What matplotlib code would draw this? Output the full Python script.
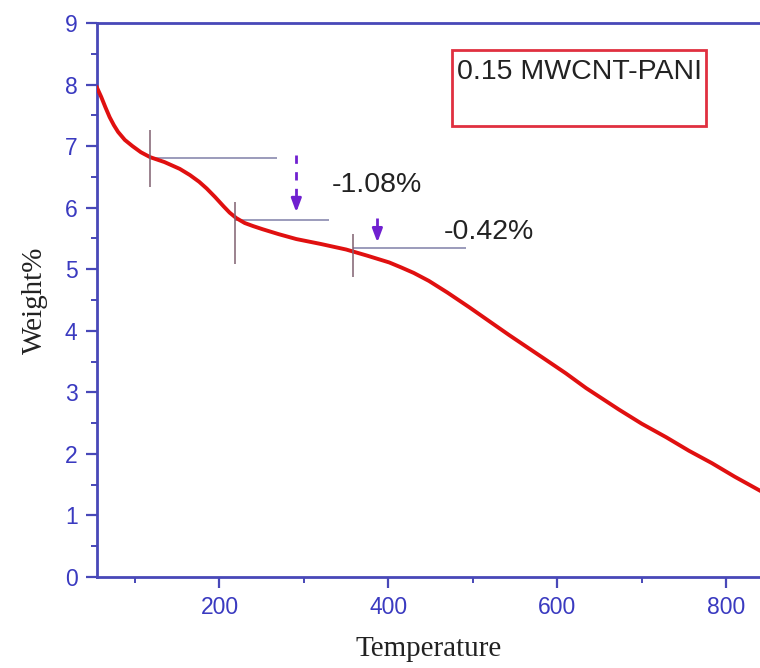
import numpy as np
import matplotlib.pyplot as plt
from matplotlib.ticker import MultipleLocator

# TGA curve
temp = [55, 60, 65, 70, 75, 80, 88, 97, 107, 118, 135, 153, 165, 176, 185, 195,
        205, 212, 220, 230, 240, 251, 270, 291, 320, 350, 375, 401, 415, 430,
        448, 470, 496, 520, 543, 582, 610, 634, 673, 700, 729, 756, 783, 810, 839]
weight = [7.95, 7.80, 7.63, 7.47, 7.34, 7.23, 7.10, 7.00, 6.90, 6.82, 6.74, 6.63,
          6.53, 6.42, 6.31, 6.17, 6.02, 5.92, 5.83, 5.75, 5.70, 5.65, 5.57, 5.49,
          5.41, 5.32, 5.22, 5.11, 5.03, 4.94, 4.81, 4.62, 4.38, 4.15, 3.93, 3.57,
          3.31, 3.07, 2.72, 2.49, 2.27, 2.05, 1.85, 1.63, 1.41]

# tangent construction marks: (temp, y_low, y_high) and (t_start, t_end, level)
onset_marks = [(118, 6.33, 7.26), (218, 5.08, 6.09), (358, 4.87, 5.58)]
levels = [(118, 268, 6.80), (218, 330, 5.80), (358, 492, 5.34)]
# step arrows: (temp, y_top, y_bottom)
steps = [(291, 6.85, 5.88), (387, 5.84, 5.39)]
step_labels = ["-1.08%", "-0.42%"]
step_label_pos = [(333, 6.36), (466, 5.6)]
sample_name = "0.15 MWCNT-PANI"

axis_col = "#4848b8"
tick_col = "#3a3ac0"
arrow_col = "#7020d0"

fig = plt.figure(figsize=(7.6, 6.68), dpi=100)
ax = fig.add_axes([0.1276, 0.1362, 0.8724, 0.8294])

ax.plot(temp, weight, color="#e01010", lw=2.8, zorder=3)

for t, lo, hi in onset_marks:
    ax.vlines(t, lo, hi, color="#806070", lw=1.1, zorder=4)
for t0, t1, lv in levels:
    ax.hlines(lv, t0, t1, color="#8080a8", lw=1.1, zorder=2)

for t, top, bot in steps:
    ax.plot([t, t], [top, bot + 0.25], color=arrow_col, lw=2, ls=(0, (3, 3)))
    ax.annotate("", xy=(t, bot), xytext=(t, bot + 0.3),
                arrowprops=dict(arrowstyle="-|>,head_width=0.3,head_length=0.8",
                                color=arrow_col, lw=2))

for s, (x, y) in zip(step_labels, step_label_pos):
    ax.text(x, y, s, fontsize=20.5, family="Liberation Sans", color="#222222",
            va="center", ha="left")

ax.text(0.543, 0.9116, sample_name, transform=ax.transAxes, fontsize=20.5,
        family="Liberation Sans", color="#222222", va="center", ha="left",
        zorder=5)
box = plt.Rectangle((0.5354, 0.814), 0.383, 0.137, transform=ax.transAxes,
                    fill=False, edgecolor="#e03040", lw=2)
ax.add_patch(box)

ax.set_xlim(55, 840)
ax.set_ylim(0, 9)
ax.xaxis.set_major_locator(MultipleLocator(200))
ax.xaxis.set_minor_locator(MultipleLocator(100))
ax.yaxis.set_major_locator(MultipleLocator(1))
ax.yaxis.set_minor_locator(MultipleLocator(0.5))

for side in ["left", "bottom", "top"]:
    ax.spines[side].set_color(axis_col)
    ax.spines[side].set_linewidth(2)
ax.spines["right"].set_visible(False)

ax.tick_params(which="major", direction="out", length=8, width=1.6,
               color=axis_col, labelcolor=tick_col, labelsize=16.5, pad=6)
ax.tick_params(which="minor", direction="out", length=4, width=1.4,
               color=axis_col)
ax.tick_params(axis="x", which="both", top=False)
for lab in ax.get_xticklabels() + ax.get_yticklabels():
    lab.set_family("Liberation Sans")

ax.set_xlabel("Temperature", family="Liberation Serif", fontsize=21,
              color="#222222", labelpad=12)
ax.set_ylabel("Weight%", family="Liberation Serif", fontsize=21,
              color="#222222", labelpad=12)

fig.savefig("out.png", dpi=100)
